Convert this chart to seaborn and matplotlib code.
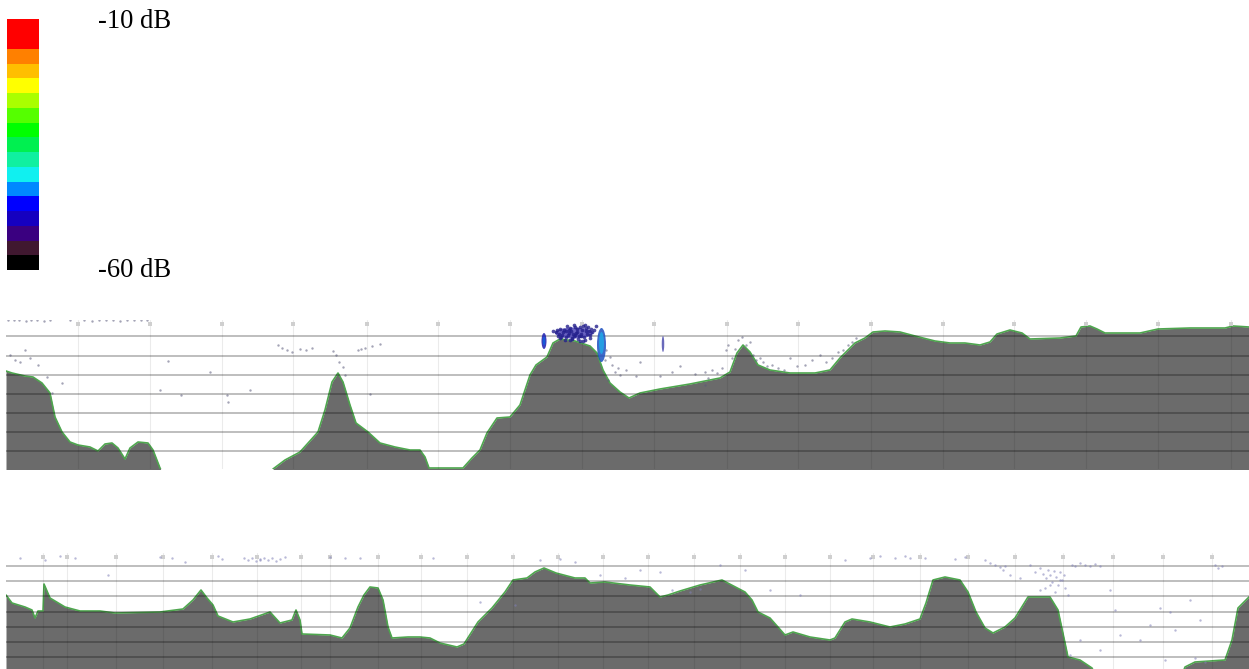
import numpy as np
import pandas as pd
import matplotlib
matplotlib.use("Agg")
import matplotlib.pyplot as plt
from matplotlib.colors import ListedColormap
from matplotlib.patches import Ellipse
import seaborn as sns

sns.set_theme(style="white")
plt.rcParams['font.family'] = ['Liberation Serif', 'DejaVu Serif']

# colour scale, strongest level first
level_colors = ["#ff0000", "#ff0000", "#ff8000", "#ffbf00", "#ffff00", "#aaff00", "#55ff00",
                "#00ff00", "#00f050", "#10f0a0", "#10f0f0", "#0088ff", "#0000ff",
                "#1500c0", "#3a0080", "#401830", "#000000"]
scale_labels = ["-10 dB", "-60 dB"]

# transect 1: seabed position along the image
t1_x = [6, 12, 25, 33, 42, 50, 55, 62, 70, 78, 90, 98, 105, 112, 118, 125, 130, 138, 148, 153, 160,
        166, 268, 273, 285, 300, 318, 325, 332, 338, 343, 350, 356, 368, 380, 395, 410, 420, 425, 429,
        463, 472, 480, 487, 497, 510, 520, 530, 536, 547, 553, 560, 575, 590, 597, 603, 610, 620, 629,
        640, 660, 690, 720, 730, 737, 743, 750, 758, 770, 790, 815, 830, 840, 855, 865, 873, 885, 900,
        915, 935, 950, 965, 980, 990, 997, 1010, 1022, 1030, 1060, 1076, 1081, 1090, 1097, 1105, 1140,
        1158, 1190, 1225, 1233, 1249]
t1_y = [371, 373, 376, 377, 383, 393, 417, 432, 442, 445, 447, 451, 444, 443, 448, 459, 448, 442, 443, 450, 468,
        480, 480, 469, 460, 452, 432, 410, 382, 373, 382, 405, 423, 432, 443, 447, 450, 450, 457, 468,
        468, 458, 450, 433, 418, 417, 405, 375, 365, 357, 343, 339, 341, 346, 353, 370, 383, 392, 398,
        393, 389, 384, 378, 372, 353, 345, 352, 365, 370, 373, 373, 370, 358, 343, 338, 332, 331, 332,
        336, 341, 343, 343, 345, 342, 334, 330, 333, 339, 338, 336, 327, 326, 329, 333, 333,
        329, 328, 328, 326, 327]
t1_hlines = [336.3, 355.7, 374.7, 393.7, 412.7, 432, 451]
t1_vlines = [78, 150, 222, 293, 367, 438, 510, 582, 654, 727, 798, 871, 943, 1014, 1086, 1158, 1231]

# transect 2
t2_x = [6, 12, 25, 32, 35, 38, 43, 44, 50, 65, 80, 100, 115, 160, 183, 193, 201, 207, 213, 218, 233, 250,
        270, 280, 292, 296, 300, 302, 330, 342, 350, 358, 364, 370, 378, 383, 388, 392, 408, 420, 430, 440,
        457, 464, 478, 492, 505, 513, 527, 535, 544, 556, 575, 585, 590, 605, 630, 650, 660, 668, 680, 700,
        722, 745, 752, 758, 770, 785, 793, 810, 830, 835, 845, 852, 870, 890, 905, 920, 926, 933, 945, 960,
        968, 976, 985, 993, 1005, 1015, 1028, 1050, 1058, 1068, 1080, 1092, 1098, 1180, 1185, 1195, 1225,
        1232, 1238, 1249]
t2_y = [595, 603, 607, 610, 618, 611, 611, 584, 598, 607, 611, 611, 613, 612, 609, 600, 590, 598, 605, 616, 622, 619,
        612, 623, 620, 610, 620, 634, 635, 638, 628, 607, 595, 587, 588, 600, 627, 638, 637, 637, 638, 643,
        647, 644, 622, 608, 592, 580, 578, 572, 568, 573, 578, 578, 583, 582, 585, 587, 597, 595, 591, 585,
        580, 592, 600, 612, 618, 635, 632, 637, 640, 638, 622, 619, 622, 627, 624, 619, 603, 580, 577, 580,
        592, 612, 628, 633, 627, 618, 597, 597, 610, 657, 660, 668, 680, 680, 667, 662, 660,
        640, 608, 597]
t2_hlines = [566, 581, 596.3, 611.7, 627.3, 641.7, 657.3]
t2_vlines = [43, 67, 116, 163, 212, 257, 301, 330, 378, 421, 467, 513, 558, 603, 648, 694, 740, 785,
             830, 873, 920, 968, 1015, 1063, 1113, 1163, 1212]

# echo patches in transect 1: centre x, centre y, width, height, colour
blob_x = [544, 544, 574, 601.5, 601.5, 663]
blob_y = [341, 341, 333, 345, 343, 344]
blob_w = [5, 2.5, 38, 9, 5, 2.5]
blob_h = [16, 9, 11, 34, 22, 16]
blob_c = ["#1c1cb0", "#1060e0", "#5048b8", "#1c50c0", "#20a8e8", "#5050b0"]

# school echoes around the hill top
school_x = [556, 558, 560, 562, 564, 566, 567, 569, 570, 572, 574, 575, 577, 578, 580, 581, 583, 585, 586, 588, 590, 591,
            565, 570, 575, 580, 585, 590, 560, 572, 583, 594, 553, 596,
            559, 563, 568, 571, 576, 579, 582, 584, 587, 589, 561, 566, 573, 577, 581, 586, 592, 557, 569, 574]
school_y = [332, 336, 329, 335, 330, 337, 326, 333, 328, 338, 325, 335, 329, 339, 327, 334, 326, 340, 331, 327, 335, 329,
            340, 340, 327, 341, 325, 338, 338, 339, 341, 330, 331, 326,
            334, 332, 335, 331, 333, 336, 330, 337, 334, 331, 337, 331, 334, 332, 336, 328, 332, 330, 330, 336]

# scattered weak echoes, transect 1
dot1_x = [10, 15, 20, 25, 30, 38, 47, 52, 62, 160, 168, 181, 210, 228, 227, 250, 282, 287, 292, 300, 306, 312, 278, 333, 336,
          339, 343, 345, 370, 358, 361, 365, 372, 380, 605, 610, 612, 615, 618, 620, 608, 606, 626, 636, 640, 660, 672, 680, 705,
          695, 705, 708, 712, 717, 722, 726, 728, 732, 735, 738, 742, 746, 750, 753, 756, 760, 763, 767, 772, 778, 784, 790, 797,
          805, 812, 820, 826, 832, 838, 843, 848, 852, 856,
          8, 14, 19, 26, 31, 37, 44, 50, 70, 84, 92, 99, 106, 113, 120, 127, 134, 141, 147]
dot1_y = [355, 360, 362, 350, 358, 365, 377, 393, 383, 390, 361, 395, 372, 402, 395, 390, 348, 350, 352, 349, 350, 348, 345, 351, 355,
          362, 367, 375, 394, 350, 349, 348, 346, 344, 360, 357, 365, 372, 368, 375, 380, 350, 370, 376, 362, 376, 372, 366, 385,
          374, 372, 378, 370, 373, 368, 350, 345, 358, 349, 340, 337, 345, 342, 355, 360, 358, 362, 366, 365, 368, 370, 358, 366,
          365, 360, 355, 362, 358, 352, 350, 345, 342, 338,
          320, 320, 320, 321, 320, 320, 321, 320, 320, 320, 321, 320, 320, 320, 321, 320, 320, 320, 320]

# scattered weak echoes, transect 2
dot2_x = [20, 45, 60, 75, 108, 160, 260, 172, 185, 244, 248, 252, 256, 260, 264, 268, 272, 276, 280, 285, 218, 222, 330, 345, 360,
          433, 480, 515, 540, 560, 575, 600, 625, 640, 660, 672, 690, 700, 720, 745, 770, 800, 845, 870, 880, 895, 905, 910, 925, 955, 965,
          985, 990, 995, 1000, 1003, 1005, 1010, 1020, 1030, 1035, 1040, 1043, 1046, 1048, 1050, 1052, 1054, 1056, 1058, 1060, 1062, 1064,
          1040, 1045, 1050, 1055, 1060, 1065, 1068, 1072, 1075, 1080, 1085, 1090, 1095, 1100, 1110, 1115, 1160, 1170, 1190, 1200, 1215, 1218,
          1222, 1070, 1080, 1140, 1150, 1175, 1195, 1205, 1165, 1120, 1100]
dot2_y = [558, 560, 556, 558, 575, 557, 560, 558, 562, 558, 560, 558, 561, 559, 558, 560, 558, 561, 559, 557, 556, 559, 557, 558, 558,
          558, 602, 605, 560, 559, 562, 575, 578, 570, 572, 590, 592, 589, 565, 570, 590, 595, 560, 558, 556, 558, 556, 558, 558, 559, 557,
          560, 563, 565, 567, 570, 566, 575, 578, 565, 572, 568, 574, 578, 570, 575, 582, 571, 577, 585, 572, 580, 575,
          590, 588, 585, 592, 580, 588, 595, 565, 566, 563, 565, 566, 564, 566, 590, 610, 608, 612, 600, 620, 565, 568,
          566, 655, 640, 640, 625, 630, 658, 662, 660, 635, 650]

ink = "#6b6b6b"
edge = "#4ea64e"
W, H = 1249, 669
fig = plt.figure(figsize=(W / 100, H / 100), dpi=100, facecolor="white")


def box(x0, y0, x1, y1):
    return [x0 / W, 1 - y1 / H, (x1 - x0) / W, (y1 - y0) / H]


# colour scale
cax = fig.add_axes(box(7, 19.3, 39, 270))
levels = np.arange(len(level_colors)).reshape(-1, 1)
sns.heatmap(levels, ax=cax, cmap=ListedColormap(level_colors), cbar=False,
            xticklabels=False, yticklabels=False, linewidths=0)
cax.set_xlabel("")
cax.set_ylabel("")
fig.text(98 / W, 1 - 28.5 / H, scale_labels[0], fontsize=19.2, color="black", va="baseline", ha="left")
fig.text(98 / W, 1 - 277 / H, scale_labels[1], fontsize=19.2, color="black", va="baseline", ha="left")


def panel(ytop, ybot, xs, ys, hl, vl, dx, dy, dcolor):
    ax = fig.add_axes(box(6, ytop, 1249, ybot))
    ax.set_xlim(6, 1249)
    ax.set_ylim(ybot, ytop)
    ax.axis("off")
    ax.fill_between(xs, ys, ybot + 40, color=ink, lw=0, zorder=2)
    sns.lineplot(data=pd.DataFrame({"x": xs, "y": ys}), x="x", y="y", ax=ax, color=edge, lw=1.2,
                 estimator=None, sort=False, zorder=3)
    for v in vl:
        ax.axvline(v, color="black", alpha=0.08, lw=0.8, zorder=4)
    for h in hl:
        ax.axhline(h, color="black", alpha=0.3, lw=1.2, zorder=4)
    sns.scatterplot(x=vl, y=[ytop + 4] * len(vl), ax=ax, marker="s", s=5, color="#cfcfcf",
                    linewidth=0, zorder=5, legend=False)
    sns.scatterplot(x=dx, y=dy, ax=ax, s=3, color=dcolor, alpha=0.55, linewidth=0, zorder=5, legend=False)
    ax.set_xlabel("")
    ax.set_ylabel("")
    return ax


ax1 = panel(320, 469, t1_x, t1_y, t1_hlines, t1_vlines, dot1_x, dot1_y, "#5a5a7a")
ax2 = panel(553, 669, t2_x, t2_y, t2_hlines, t2_vlines, dot2_x, dot2_y, "#8080b8")

for x, y, w, h, c in zip(blob_x, blob_y, blob_w, blob_h, blob_c):
    ax1.add_patch(Ellipse((x, y), w, h, facecolor=c, edgecolor="none", alpha=0.85, zorder=6))
sns.scatterplot(x=school_x, y=school_y, ax=ax1, s=7, color="#24208c", linewidth=0, alpha=0.8, zorder=7, legend=False)

fig.savefig("out.png", dpi=100, facecolor="white")
